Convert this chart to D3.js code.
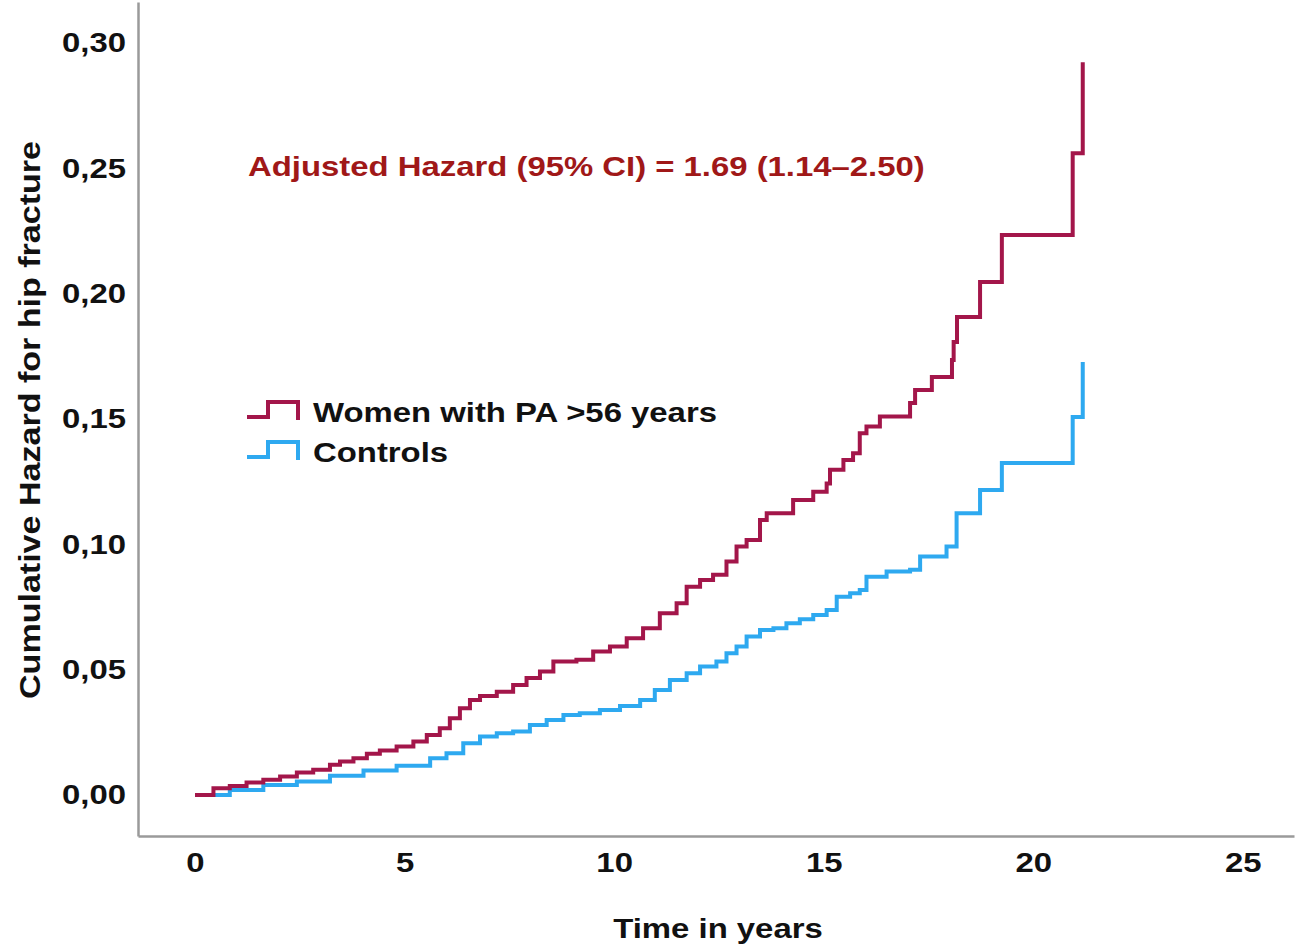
<!DOCTYPE html>
<meta charset="utf-8">
<style>
body { margin: 0; background: #fff; }
text { font-family: "Liberation Sans", Arial, sans-serif; font-weight: bold; }
.domain { stroke: #9a9a9a; stroke-width: 2.5; }
</style>
<body>
<script src="https://d3js.org/d3.v7.min.js"></script>
<script>

// data (time in years, cumulative hazard)
var paTime   = [0, 0.44, 0.83, 1.23, 1.63, 2.03, 2.43, 2.82, 3.22, 3.46, 3.78, 4.10, 4.41, 4.81, 5.21, 5.53, 5.84, 6.08, 6.32, 6.56, 6.80, 7.20, 7.59, 7.91, 8.23, 8.55, 9.10, 9.50, 9.90, 10.30, 10.69, 11.09, 11.49, 11.73, 12.05, 12.36, 12.68, 12.92, 13.16, 13.48, 13.64, 14.27, 14.75, 15.07, 15.15, 15.47, 15.70, 15.86, 16.02, 16.34, 17.06, 17.18, 17.58, 18.06, 18.10, 18.18, 18.73, 19.25, 20.94, 21.18];
var paHazard = [0, 0.0027, 0.0036, 0.0049, 0.006, 0.0073, 0.0089, 0.010, 0.012, 0.0133, 0.0146, 0.0164, 0.0177, 0.0193, 0.0213, 0.0239, 0.0266, 0.0306, 0.0346, 0.0379, 0.0395, 0.0412, 0.0439, 0.0466, 0.0492, 0.0532, 0.0539, 0.0572, 0.0592, 0.0625, 0.0665, 0.0725, 0.0765, 0.0831, 0.0858, 0.0878, 0.0931, 0.0991, 0.1017, 0.1097, 0.1124, 0.1177, 0.121, 0.1243, 0.1297, 0.1336, 0.1363, 0.1443, 0.147, 0.151, 0.1564, 0.1616, 0.1668, 0.1735, 0.1807, 0.1907, 0.2047, 0.2234, 0.256, 0.2924];

var ctrlTime   = [0, 0.83, 1.63, 2.43, 3.22, 4.02, 4.81, 5.61, 6.00, 6.40, 6.80, 7.20, 7.59, 7.99, 8.39, 8.79, 9.18, 9.66, 10.14, 10.62, 10.97, 11.33, 11.73, 12.05, 12.44, 12.68, 12.92, 13.16, 13.48, 13.80, 14.11, 14.43, 14.75, 15.07, 15.31, 15.63, 15.86, 16.02, 16.50, 17.06, 17.30, 17.93, 18.17, 18.73, 19.25, 20.94, 21.18];
var ctrlHazard = [0, 0.002, 0.004, 0.0053, 0.0076, 0.0097, 0.0116, 0.0146, 0.0166, 0.0206, 0.0233, 0.0246, 0.0253, 0.0279, 0.0299, 0.0319, 0.0326, 0.0339, 0.0355, 0.0379, 0.0419, 0.0459, 0.0485, 0.0512, 0.0532, 0.0565, 0.0592, 0.0632, 0.0658, 0.0665, 0.0685, 0.0701, 0.0718, 0.0738, 0.0791, 0.0805, 0.0818, 0.0871, 0.0891, 0.0898, 0.0951, 0.0991, 0.1124, 0.1217, 0.1324, 0.1508, 0.1727];

var xTicks = [0, 5, 10, 15, 20, 25];
var yTicks = [0, 0.05, 0.10, 0.15, 0.20, 0.25, 0.30];
var seriesNames = ["Women with PA >56 years", "Controls"];
var seriesColors = ["#a3164a", "#2ea9f0"];

var W = 1298, H = 950;
var sx = 1.2;   // picture is stretched sideways, so is the text
var fs = 27.4;

var svg = d3.select("body").append("svg")
    .attr("width", W)
    .attr("height", H);

var x = d3.scaleLinear().domain([-1.36, 26.22]).range([138, 1294]);
var y = d3.scaleLinear().domain([-0.0164, 0.3164]).range([836, 2]);

// axes
svg.append("g")
    .attr("transform", "translate(0,836)")
    .call(d3.axisBottom(x).tickValues(xTicks).tickSize(0).tickPadding(17).tickFormat(d3.format("d")))
  .selectAll("text")
    .attr("font-size", fs)
    .attr("fill", "#111")
    .attr("transform", "scale(" + sx + ",1)");

svg.append("g")
    .attr("transform", "translate(138,0)")
    .call(d3.axisLeft(y).tickValues(yTicks).tickSize(0).tickPadding(10)
      .tickFormat(function(d) { return d3.format(".2f")(d).replace(".", ","); }))
  .selectAll("text")
    .attr("font-size", fs)
    .attr("fill", "#111")
    .attr("transform", "scale(" + sx + ",1)");

svg.selectAll(".tick line").remove();
svg.selectAll(".domain").attr("fill", "none");

// curves
var line = d3.line()
    .x(function(d) { return x(d[0]); })
    .y(function(d) { return y(d[1]); })
    .curve(d3.curveStepAfter);

var series = [d3.zip(paTime, paHazard), d3.zip(ctrlTime, ctrlHazard)];

svg.selectAll(".curve")
    .data(series.slice().reverse())
  .enter().append("path")
    .attr("class", "curve")
    .attr("d", line)
    .attr("fill", "none")
    .attr("stroke", function(d, i) { return seriesColors[1 - i]; })
    .attr("stroke-width", 4);

// legend
var lg = svg.selectAll(".leg")
    .data(seriesNames)
  .enter().append("g")
    .attr("class", "leg")
    .attr("transform", function(d, i) { return "translate(247," + (417 + i * 40) + ")"; });

lg.append("path")
    .attr("d", "M0,0 H21 V-15 H51 V3")
    .attr("fill", "none")
    .attr("stroke", function(d, i) { return seriesColors[i]; })
    .attr("stroke-width", 4);

lg.append("text")
    .attr("transform", "translate(66,5) scale(" + sx + ",1)")
    .attr("font-size", fs)
    .attr("fill", "#111")
    .text(function(d) { return d; });

// annotation
svg.append("text")
    .attr("transform", "translate(248,176) scale(" + sx + ",1)")
    .attr("font-size", fs)
    .attr("fill", "#a01818")
    .text("Adjusted Hazard (95% CI) = 1.69 (1.14\u20132.50)");

// axis titles
svg.append("text")
    .attr("transform", "translate(718,938) scale(" + sx + ",1)")
    .attr("text-anchor", "middle")
    .attr("font-size", fs)
    .attr("fill", "#111")
    .text("Time in years");

svg.append("text")
    .attr("transform", "translate(40,420) rotate(-90)")
    .attr("text-anchor", "middle")
    .attr("font-size", 29)
    .attr("fill", "#111")
    .attr("textLength", 558)
    .attr("lengthAdjust", "spacingAndGlyphs")
    .text("Cumulative  Hazard for hip fracture");

</script>
</body>
